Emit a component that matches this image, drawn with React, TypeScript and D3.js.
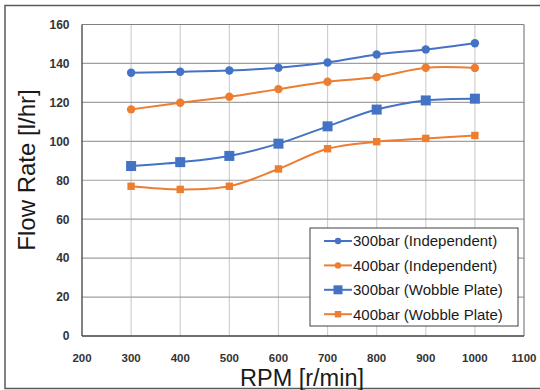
import React from "react";
import * as d3 from "d3";

const rpm = [300, 400, 500, 600, 700, 800, 900, 1000];
const ind300 = [135.2, 135.7, 136.4, 137.8, 140.5, 144.6, 147.2, 150.4];
const ind400 = [116.4, 119.8, 122.9, 126.8, 130.6, 133.0, 137.8, 137.7];
const wob300 = [87.3, 89.3, 92.5, 98.8, 107.7, 116.3, 121.0, 121.9];
const wob400 = [76.9, 75.3, 76.9, 85.8, 96.2, 99.8, 101.5, 103.0];
const xTicks = [200, 300, 400, 500, 600, 700, 800, 900, 1000, 1100];
const yTicks = [0, 20, 40, 60, 80, 100, 120, 140, 160];

const BLUE = "#4472C4";
const ORANGE = "#ED7D31";

const series = [
  { name: "300bar (Independent)", values: ind300, color: BLUE, marker: "circle", size: 8.4, lsize: 6.4 },
  { name: "400bar (Independent)", values: ind400, color: ORANGE, marker: "circle", size: 8.4, lsize: 6.4 },
  { name: "300bar (Wobble Plate)", values: wob300, color: BLUE, marker: "square", size: 10, lsize: 9 },
  { name: "400bar (Wobble Plate)", values: wob400, color: ORANGE, marker: "square", size: 7.4, lsize: 6.4 },
];

export default function App() {
  const W = 540, H = 390;
  const L = 82, R = 524, T = 24.5, B = 336;
  const x = d3.scaleLinear().domain([200, 1100]).range([L, R]);
  const y = d3.scaleLinear().domain([0, 160]).range([B, T]);
  const line = d3
    .line<number>()
    .x((_, i) => x(rpm[i]))
    .y((d) => y(d))
    .curve(d3.curveCatmullRom.alpha(0.5));
  const font = "'Liberation Sans', Arial, sans-serif";
  const lx = 310, ly = 228, lw = 208, lh = 98;

  return (
    <svg width={W} height={H} style={{ position: "absolute", left: 0, top: 0, background: "#fff" }} fontFamily={font}>
      <rect x={5} y={5.5} width={540} height={383} fill="#fff" stroke="#595959" strokeWidth={1.5} />
      {xTicks.slice(1, -1).map((t) => (
        <line key={"vx" + t} x1={x(t)} x2={x(t)} y1={T} y2={B} stroke="#d0d0d0" strokeWidth={1.2} />
      ))}
      {yTicks.slice(1, -1).map((t) => (
        <line key={"hy" + t} x1={L} x2={R} y1={y(t)} y2={y(t)} stroke="#a0a0a0" strokeWidth={1.2} />
      ))}
      <line x1={L} x2={R} y1={T} y2={T} stroke="#808080" strokeWidth={1.2} />
      <line x1={R} x2={R} y1={T} y2={B} stroke="#808080" strokeWidth={1.2} />
      <line x1={L} x2={L} y1={T} y2={B} stroke="#404040" strokeWidth={1.3} />
      <line x1={L} x2={R} y1={B} y2={B} stroke="#404040" strokeWidth={1.3} />
      {yTicks.map((t) => (
        <text key={"yl" + t} x={69.5} y={y(t)} dy="0.36em" textAnchor="end" fontSize={12} fontWeight="bold" fill="#333">
          {t}
        </text>
      ))}
      {xTicks.map((t) => (
        <text key={"xl" + t} x={x(t)} y={362} textAnchor="middle" fontSize={11.5} fontWeight="bold" fill="#333">
          {t}
        </text>
      ))}
      <text x={302} y={385.5} textAnchor="middle" fontSize={23.5} fill="#1a1a1a">
        RPM [r/min]
      </text>
      <text transform={`translate(35,170) rotate(-90)`} textAnchor="middle" fontSize={24} fill="#1a1a1a">
        Flow Rate [l/hr]
      </text>
      {series.map((s) => (
        <g key={s.name}>
          <path d={line(s.values) || ""} fill="none" stroke={s.color} strokeWidth={2} />
          {s.values.map((v, i) =>
            s.marker === "circle" ? (
              <circle key={i} cx={x(rpm[i])} cy={y(v)} r={s.size / 2} fill={s.color} />
            ) : (
              <rect key={i} x={x(rpm[i]) - s.size / 2} y={y(v) - s.size / 2} width={s.size} height={s.size} fill={s.color} />
            )
          )}
        </g>
      ))}
      <rect x={lx} y={ly} width={lw} height={lh} fill="#fff" stroke="#404040" strokeWidth={1} />
      {series.map((s, i) => {
        const cy = 241 + i * 24.4;
        return (
          <g key={"lg" + i}>
            <line x1={324} x2={352} y1={cy} y2={cy} stroke={s.color} strokeWidth={2} />
            {s.marker === "circle" ? (
              <circle cx={338} cy={cy} r={s.lsize / 2} fill={s.color} />
            ) : (
              <rect x={338 - s.lsize / 2} y={cy - s.lsize / 2} width={s.lsize} height={s.lsize} fill={s.color} />
            )}
            <text x={353} y={cy} dy="0.36em" fontSize={15} fill="#1a1a1a">
              {s.name}
            </text>
          </g>
        );
      })}
    </svg>
  );
}
